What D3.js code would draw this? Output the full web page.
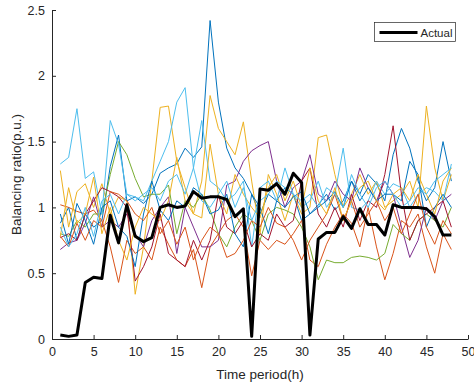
<!DOCTYPE html>
<html>
<head>
<meta charset="utf-8">
<script src="https://cdn.jsdelivr.net/npm/d3@7"></script>
<style>
  body { margin: 0; background: #fff; }
  svg { display: block; font-family: "Liberation Sans", Arial, sans-serif; }
</style>
</head>
<body>
<div id="chart"></div>
<script>
// hours 1..48
const hours = d3.range(1, 49);

const actual = [0.03, 0.02, 0.03, 0.43, 0.47, 0.46, 0.94, 0.73, 1.02, 0.78, 0.74, 0.77,
  1.00, 1.02, 1.00, 1.01, 1.12, 1.07, 1.08, 1.08, 1.06, 0.93, 0.99, 0.02,
  1.14, 1.13, 1.18, 1.10, 1.26, 1.19, 0.03, 0.76, 0.81, 0.81, 0.93, 0.84,
  0.99, 0.87, 0.87, 0.79, 1.02, 1.00, 1.00, 1.00, 0.99, 0.93, 0.79, 0.79];

const colors = ['#0072BD', '#D95319', '#EDB120', '#7E2F8E', '#77AC30', '#4DBEEE',
  '#A2142F', '#0072BD', '#D95319', '#EDB120', '#4DBEEE'];

const s1 = [0.88, 1.00, 0.75, 0.95, 0.85, 0.90, 1.31, 1.55, 1.05, 1.08, 1.03, 1.10,
  1.26, 1.30, 1.33, 1.45, 1.38, 1.46, 2.42, 1.80, 1.45, 1.30, 1.22, 1.10,
  0.95, 1.10, 1.05, 1.15, 1.10, 0.90, 0.95, 1.02, 1.10, 0.98, 1.05, 1.20,
  1.10, 1.25, 1.18, 1.05, 1.40, 1.60, 1.45, 1.20, 1.05, 1.15, 1.50, 1.20];
const s2 = [1.02, 1.00, 0.97, 0.95, 0.98, 0.90, 0.70, 0.43, 0.75, 0.65, 0.70, 0.60,
  0.85, 0.72, 0.60, 0.55, 0.68, 0.39, 0.70, 0.80, 0.90, 0.95, 0.85, 0.48,
  0.75, 0.68, 0.75, 0.72, 0.80, 0.90, 0.60, 0.55, 0.72, 0.85, 0.95, 0.88,
  0.70, 1.00, 0.70, 0.45, 0.65, 0.90, 0.85, 0.95, 0.70, 0.50, 0.80, 0.68];
const s3 = [1.28, 0.85, 1.12, 1.18, 1.00, 1.18, 0.95, 1.08, 1.05, 0.34, 0.70, 1.20,
  1.76, 1.77, 1.35, 1.15, 0.95, 1.20, 1.85, 1.60, 1.50, 1.40, 1.65, 1.20,
  0.80, 1.25, 1.10, 0.90, 1.10, 0.95, 1.00, 1.53, 1.55, 1.25, 1.00, 1.10,
  1.25, 1.10, 1.20, 1.00, 1.05, 1.10, 1.20, 1.00, 1.77, 1.30, 1.05, 1.25];
const s4 = [0.68, 0.73, 0.75, 0.88, 1.08, 0.85, 0.90, 0.85, 0.95, 0.80, 0.70, 0.90,
  1.00, 1.08, 0.65, 1.00, 0.85, 0.70, 0.70, 0.75, 1.17, 1.20, 1.35, 1.43,
  1.47, 1.50, 1.20, 1.00, 1.15, 1.20, 1.40, 1.10, 1.05, 1.20, 1.10, 1.05,
  1.30, 1.15, 1.05, 1.20, 1.10, 0.85, 0.62, 0.75, 1.00, 0.90, 1.05, 1.10];
const s5 = [0.80, 0.78, 0.90, 0.85, 0.95, 0.95, 1.25, 1.50, 1.40, 1.22, 1.08, 1.10,
  1.10, 1.17, 0.80, 1.05, 1.00, 1.10, 0.98, 0.80, 0.70, 0.85, 0.95, 0.90,
  0.75, 0.95, 1.00, 0.98, 0.95, 0.85, 0.70, 0.45, 0.60, 0.58, 0.58, 0.62,
  0.63, 0.62, 0.60, 0.65, 0.87, 0.80, 0.75, 0.90, 0.95, 0.90, 0.85, 1.00];
const s6 = [1.33, 1.38, 1.75, 1.22, 1.27, 0.95, 1.66, 1.48, 1.10, 1.08, 1.05, 1.20,
  1.35, 1.50, 1.80, 1.91, 1.30, 1.66, 1.20, 1.15, 1.05, 1.10, 1.20, 0.70,
  1.15, 1.20, 1.05, 1.30, 1.10, 1.00, 1.05, 1.20, 1.00, 1.10, 1.45, 1.00,
  0.98, 1.05, 1.20, 1.10, 1.18, 1.15, 1.00, 1.10, 1.15, 1.12, 1.05, 1.33];
const s7 = [0.77, 0.80, 0.75, 0.95, 1.05, 1.15, 1.12, 1.08, 1.00, 0.44, 0.55, 0.70,
  0.95, 0.65, 0.60, 0.55, 0.75, 0.60, 0.75, 1.10, 0.85, 0.80, 0.90, 0.70,
  0.80, 0.75, 0.95, 0.85, 0.90, 1.20, 1.30, 0.95, 0.85, 1.00, 0.85, 1.10,
  0.90, 1.05, 1.00, 1.25, 1.62, 1.10, 0.75, 0.90, 0.95, 1.00, 1.05, 0.85];
const s8 = [0.95, 0.72, 1.03, 0.90, 0.72, 1.00, 1.05, 0.85, 0.78, 0.55, 0.95, 1.20,
  0.98, 0.90, 1.05, 1.00, 1.15, 1.10, 0.95, 0.98, 1.10, 0.80, 0.70, 1.10,
  1.00, 0.80, 1.05, 1.00, 1.08, 1.12, 0.95, 1.00, 1.05, 1.12, 1.00, 1.20,
  1.05, 1.15, 1.05, 1.10, 1.10, 1.05, 1.35, 1.25, 0.85, 1.00, 1.10, 1.00];
const s9 = [0.78, 0.70, 0.88, 0.75, 0.90, 0.85, 1.12, 1.10, 1.05, 0.95, 0.90, 1.00,
  0.80, 0.90, 0.72, 0.85, 0.60, 0.75, 0.85, 0.80, 0.62, 0.65, 0.75, 0.90,
  0.85, 1.00, 0.88, 0.85, 0.75, 0.60, 0.75, 0.85, 0.95, 1.10, 0.90, 1.05,
  0.85, 0.95, 1.05, 0.90, 1.00, 0.80, 0.95, 1.10, 0.85, 0.72, 0.90, 0.80];
const s10 = [0.78, 1.15, 0.88, 0.95, 1.23, 0.80, 1.00, 0.75, 0.60, 0.85, 1.00, 0.95,
  0.90, 1.05, 1.38, 1.05, 0.95, 0.92, 1.48, 1.10, 0.95, 1.25, 1.10, 1.00,
  0.92, 1.15, 1.25, 1.05, 1.20, 1.00, 1.30, 1.05, 0.95, 1.15, 0.90, 1.05,
  1.15, 1.20, 1.05, 0.98, 1.10, 1.15, 1.05, 1.25, 1.10, 0.95, 1.20, 1.30];
const s11 = [0.85, 0.70, 0.80, 1.00, 0.78, 1.05, 1.10, 0.95, 1.10, 1.05, 1.10, 1.15,
  1.05, 1.20, 1.25, 1.10, 1.30, 1.05, 1.00, 1.10, 1.20, 1.00, 1.15, 0.90,
  1.05, 1.10, 1.20, 1.15, 1.10, 1.05, 1.10, 1.00, 1.15, 1.10, 1.00, 1.25,
  1.10, 1.00, 1.15, 1.20, 1.10, 1.00, 1.05, 1.15, 1.10, 1.20, 1.25, 1.30];

const scenarios = [s1, s2, s3, s4, s5, s6, s7, s8, s9, s10, s11];

const xTicks = [0, 5, 10, 15, 20, 25, 30, 35, 40, 45, 50];
const yTicks = [0, 0.5, 1, 1.5, 2, 2.5];

const W = 474, H = 385;
const margin = { top: 10, right: 6, bottom: 46, left: 52 };
const axisColor = '#262626';

const svg = d3.select('#chart').append('svg')
  .attr('width', W)
  .attr('height', H);

const x = d3.scaleLinear().domain([0, 50]).range([margin.left, W - margin.right]);
const y = d3.scaleLinear().domain([0, 2.5]).range([H - margin.bottom, margin.top]);

const line = d3.line()
  .x((d, i) => x(hours[i]))
  .y(d => y(d));

// scenario lines
svg.append('g')
  .selectAll('path')
  .data(scenarios)
  .enter()
  .append('path')
  .attr('d', d => line(d))
  .attr('fill', 'none')
  .attr('stroke', (d, i) => colors[i])
  .attr('stroke-width', 1);

// actual
svg.append('path')
  .attr('d', line(actual))
  .attr('fill', 'none')
  .attr('stroke', '#000')
  .attr('stroke-width', 3)
  .attr('stroke-linejoin', 'round');

// axes, ticks inward like matlab
const xAxis = svg.append('g')
  .attr('transform', `translate(0,${H - margin.bottom})`)
  .call(d3.axisBottom(x).tickValues(xTicks).tickSizeInner(-4).tickSizeOuter(0).tickPadding(8));
const yAxis = svg.append('g')
  .attr('transform', `translate(${margin.left},0)`)
  .call(d3.axisLeft(y).tickValues(yTicks).tickSizeInner(-4).tickSizeOuter(0).tickPadding(7)
    .tickFormat(d3.format('')));

[xAxis, yAxis].forEach(a => {
  a.selectAll('.domain, .tick line').attr('stroke', axisColor);
  a.selectAll('.tick text')
    .attr('fill', axisColor)
    .attr('font-size', '12.5px')
    .attr('font-family', '"Liberation Sans", Arial, sans-serif');
});

svg.append('text')
  .attr('x', (x(0) + x(50)) / 2)
  .attr('y', 379)
  .attr('text-anchor', 'middle')
  .attr('fill', axisColor)
  .attr('font-size', '13.5px')
  .text('Time period(h)');

svg.append('text')
  .attr('transform', `translate(21,${(y(0) + y(2.5)) / 2}) rotate(-90)`)
  .attr('text-anchor', 'middle')
  .attr('fill', axisColor)
  .attr('font-size', '13.5px')
  .text('Balancing ratio(p.u.)');

// legend
const lg = svg.append('g').attr('transform', 'translate(374.5,22.5)');
lg.append('rect')
  .attr('width', 81)
  .attr('height', 19)
  .attr('fill', '#fff')
  .attr('stroke', axisColor)
  .attr('stroke-width', 0.7);
lg.append('line')
  .attr('x1', 5).attr('x2', 43)
  .attr('y1', 10).attr('y2', 10)
  .attr('stroke', '#000')
  .attr('stroke-width', 3);
lg.append('text')
  .attr('x', 46)
  .attr('y', 14)
  .attr('fill', axisColor)
  .attr('font-size', '11.5px')
  .text('Actual');
</script>
</body>
</html>
